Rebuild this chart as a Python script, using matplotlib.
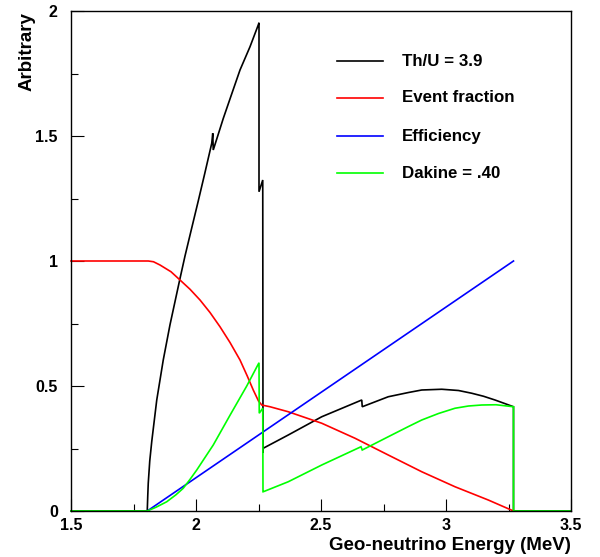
import matplotlib
matplotlib.use("Agg")
import matplotlib.pyplot as plt
from matplotlib.ticker import MultipleLocator, FuncFormatter

# ── data (energy in MeV, arbitrary units) ────────────────────────────────────
th_e = [1.5, 1.805, 1.807, 1.809, 1.815, 1.823, 1.843, 1.869, 1.896, 1.936,
        1.956, 1.980, 2.009, 2.035, 2.063, 2.067, 2.069, 2.090, 2.109, 2.140,
        2.176, 2.216, 2.249, 2.252, 2.252, 2.267, 2.268, 2.269, 2.369, 2.503,
        2.663, 2.665, 2.769, 2.850, 2.903, 2.983, 3.050, 3.103, 3.150, 3.196,
        3.240, 3.270, 3.270, 3.5]
th_v = [0, 0, 0.060, 0.111, 0.200, 0.278, 0.444, 0.604, 0.745, 0.930,
        1.020, 1.120, 1.240, 1.350, 1.471, 1.511, 1.444, 1.510, 1.570, 1.660,
        1.764, 1.857, 1.944, 1.953, 1.277, 1.324, 0.232, 0.251, 0.304, 0.377,
        0.444, 0.417, 0.457, 0.474, 0.484, 0.487, 0.482, 0.471, 0.459, 0.444,
        0.428, 0.417, 0, 0]

frac_e = [1.5, 1.809, 1.830, 1.856, 1.900, 1.936, 1.976, 2.016, 2.056, 2.096,
          2.136, 2.176, 2.205, 2.229, 2.250, 2.263, 2.296, 2.369, 2.503, 2.636,
          2.769, 2.903, 3.036, 3.169, 3.270]
frac_v = [1.0, 1.0, 0.997, 0.984, 0.957, 0.924, 0.887, 0.844, 0.794, 0.737,
          0.674, 0.604, 0.540, 0.484, 0.440, 0.424, 0.417, 0.397, 0.351, 0.291,
          0.224, 0.157, 0.097, 0.044, 0]

eff_e = [1.805, 3.270]
eff_v = [0, 1.0]

dak_e = [1.5, 1.805, 1.840, 1.883, 1.920, 1.949, 1.975, 2.003, 2.069, 2.136,
         2.203, 2.252, 2.253, 2.267, 2.268, 2.269, 2.369, 2.503, 2.660, 2.665,
         2.769, 2.850, 2.903, 2.970, 3.036, 3.090, 3.143, 3.200, 3.270, 3.270,
         3.5]
dak_v = [0, 0, 0.015, 0.037, 0.065, 0.091, 0.125, 0.164, 0.264, 0.383,
         0.500, 0.593, 0.391, 0.411, 0.077, 0.077, 0.117, 0.184, 0.257, 0.244,
         0.297, 0.338, 0.364, 0.390, 0.411, 0.420, 0.424, 0.425, 0.417, 0,
         0]

labels = ["Th/U = 3.9", "Event fraction", "Efficiency", "Dakine = .40"]
colors = ["black", "#ff0000", "#0000ff", "#00ff00"]

FONT = "Liberation Sans"
LW = 1.2

fig = plt.figure(figsize=(6.0, 5.57), dpi=100)
ax = fig.add_axes([71 / 600, 46 / 557, 500 / 600, 500 / 557])

series = [(th_e, th_v), (frac_e, frac_v), (eff_e, eff_v), (dak_e, dak_v)]
for (e, v), c in zip(series, colors):
    ax.plot(e, v, color=c, lw=LW, clip_on=False, solid_joinstyle="miter")

ax.set_xlim(1.5, 3.5)
ax.set_ylim(0, 2)

# ── ROOT-ish axes ───────────────────────────────────────────────────────────
ax.xaxis.set_major_locator(MultipleLocator(0.5))
ax.xaxis.set_minor_locator(MultipleLocator(0.25))
ax.yaxis.set_major_locator(MultipleLocator(0.5))
ax.yaxis.set_minor_locator(MultipleLocator(0.25))
fmt = FuncFormatter(lambda x, _: f"{x:g}")
ax.xaxis.set_major_formatter(fmt)
ax.yaxis.set_major_formatter(fmt)
ax.tick_params(which="both", direction="in", top=False, right=False, width=0.8)
ax.tick_params(which="major", length=9)
ax.tick_params(which="minor", length=5)
ax.tick_params(axis="x", pad=5)
ax.tick_params(axis="y", pad=9.5)
for lab in ax.get_xticklabels() + ax.get_yticklabels():
    lab.set_fontfamily(FONT)
    lab.set_fontweight("bold")
    lab.set_fontsize(11.5)
for sp in ax.spines.values():
    sp.set_linewidth(1.0)

fig.text(571 / 600, 1 - 545 / 557, "Geo-neutrino Energy (MeV)", ha="right",
         va="center", fontsize=13.5, fontweight="bold", family=FONT)
fig.text(27.5 / 600, 1 - 12 / 557, "Arbitrary", ha="center", va="top",
         rotation=90, fontsize=13.5, fontweight="bold", family=FONT)

# ── legend (no frame) ───────────────────────────────────────────────────────
rows_y = [0.900, 0.826, 0.750, 0.676]
for lab, c, y in zip(labels, colors, rows_y):
    ax.plot([0.532, 0.624], [y, y], color=c, lw=LW, transform=ax.transAxes)
    ax.text(0.662, y, lab, transform=ax.transAxes, va="center", ha="left",
            fontsize=12.2, fontweight="bold", family=FONT)

fig.savefig("out.png", dpi=100)
